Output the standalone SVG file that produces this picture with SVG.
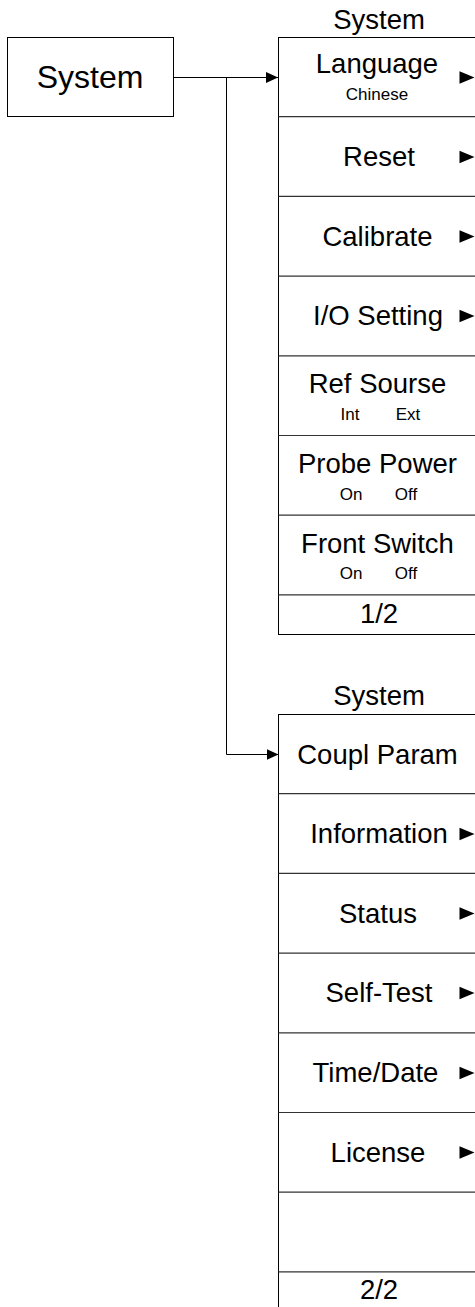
<svg xmlns="http://www.w3.org/2000/svg" width="475" height="1307" viewBox="0 0 475 1307">
<style>
text{font-family:"Liberation Sans",Arial,sans-serif;fill:#000;text-anchor:middle}
.big{font-size:32px}
.item{font-size:27.5px}
.sub{font-size:17px}
.box{fill:#fff;stroke:#000;stroke-width:1}
.sep{stroke:#333;stroke-width:1.2}
.conn{fill:none;stroke:#000;stroke-width:1}
.tri{fill:#000}
</style>
<defs>
<marker id="ah" markerWidth="12" markerHeight="11" refX="12" refY="5.5" orient="auto" markerUnits="userSpaceOnUse">
<path d="M0,0 L12,5.5 L0,11 Z" fill="#000"/>
</marker>
<polygon id="sub" class="tri" points="0,-6.2 15,0 0,6.2"/>
</defs>

<g id="connectors">
<path class="conn" d="M173,77.5 H278" marker-end="url(#ah)"/>
<path class="conn" d="M226.5,77.5 V754.5 H278.5" marker-end="url(#ah)"/>
</g>

<g id="system-root">
<rect class="box" x="7.5" y="37.5" width="166" height="79"/>
<text class="big" x="90" y="88">System</text>
</g>

<g id="menu-page1">
<text class="item" x="379" y="29">System</text>
<rect class="box" x="278.5" y="37.5" width="205" height="597"/>
<line class="sep" x1="278.5" y1="116.7" x2="483" y2="116.7"/>
<line class="sep" x1="278.5" y1="196.4" x2="483" y2="196.4"/>
<line class="sep" x1="278.5" y1="276.1" x2="483" y2="276.1"/>
<line class="sep" x1="278.5" y1="355.8" x2="483" y2="355.8"/>
<line class="sep" x1="278.5" y1="435.5" x2="483" y2="435.5"/>
<line class="sep" x1="278.5" y1="515.2" x2="483" y2="515.2"/>
<line class="sep" x1="278.5" y1="594.9" x2="483" y2="594.9"/>
<g id="m1-language"><text class="item" x="377" y="73">Language</text><text class="sub" x="377" y="100">Chinese</text><use href="#sub" x="459.5" y="77.5"/></g>
<g id="m1-reset"><text class="item" x="379" y="165.5">Reset</text><use href="#sub" x="459.5" y="157"/></g>
<g id="m1-calibrate"><text class="item" x="377.5" y="245.5">Calibrate</text><use href="#sub" x="459.5" y="236.5"/></g>
<g id="m1-io"><text class="item" x="378" y="325">I/O Setting</text><use href="#sub" x="459.5" y="316"/></g>
<g id="m1-ref"><text class="item" x="377.5" y="393">Ref Sourse</text><text class="sub" x="350" y="420">Int</text><text class="sub" x="408" y="420">Ext</text></g>
<g id="m1-probe"><text class="item" x="377.5" y="473">Probe Power</text><text class="sub" x="351" y="499.5">On</text><text class="sub" x="406" y="499.5">Off</text></g>
<g id="m1-front"><text class="item" x="377.5" y="553">Front Switch</text><text class="sub" x="351" y="578.5">On</text><text class="sub" x="406" y="578.5">Off</text></g>
<g id="m1-page"><text class="item" x="379" y="623">1/2</text></g>
</g>

<g id="menu-page2">
<text class="item" x="379" y="705">System</text>
<rect class="box" x="278.5" y="714.5" width="205" height="600"/>
<line class="sep" x1="278.5" y1="793.7" x2="483" y2="793.7"/>
<line class="sep" x1="278.5" y1="873.4" x2="483" y2="873.4"/>
<line class="sep" x1="278.5" y1="953.1" x2="483" y2="953.1"/>
<line class="sep" x1="278.5" y1="1032.8" x2="483" y2="1032.8"/>
<line class="sep" x1="278.5" y1="1112.5" x2="483" y2="1112.5"/>
<line class="sep" x1="278.5" y1="1192.2" x2="483" y2="1192.2"/>
<line class="sep" x1="278.5" y1="1271.9" x2="483" y2="1271.9"/>
<g id="m2-coupl"><text class="item" x="377.5" y="763.5">Coupl Param</text></g>
<g id="m2-info"><text class="item" x="379" y="843">Information</text><use href="#sub" x="459.5" y="834"/></g>
<g id="m2-status"><text class="item" x="378" y="922.5">Status</text><use href="#sub" x="459.5" y="913.5"/></g>
<g id="m2-selftest"><text class="item" x="379" y="1002">Self-Test</text><use href="#sub" x="459.5" y="993"/></g>
<g id="m2-time"><text class="item" x="375.5" y="1082">Time/Date</text><use href="#sub" x="459.5" y="1073"/></g>
<g id="m2-license"><text class="item" x="378" y="1161.5">License</text><use href="#sub" x="459.5" y="1152.5"/></g>
<g id="m2-empty"></g>
<g id="m2-page"><text class="item" x="379" y="1299">2/2</text></g>
</g>
</svg>
